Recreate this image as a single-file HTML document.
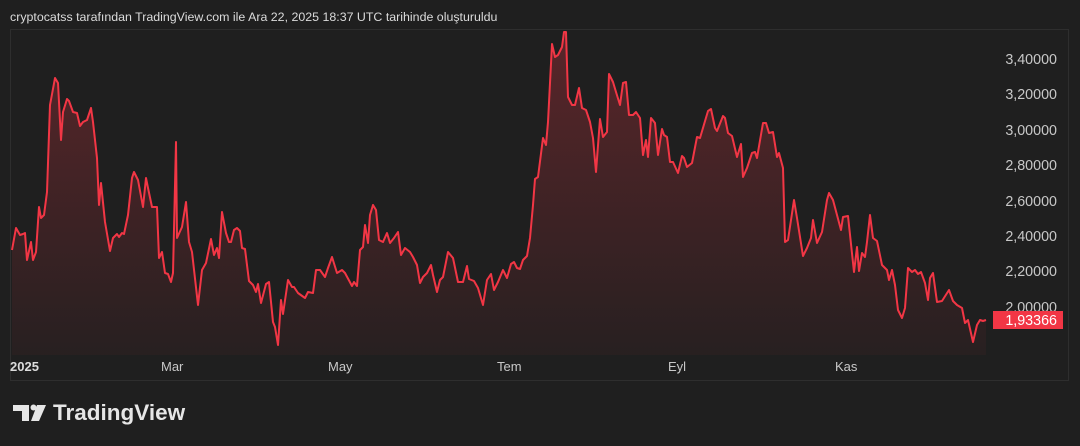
<!DOCTYPE html>
<html><head><meta charset="utf-8"><style>
html,body{margin:0;padding:0;background:#1f1f1f;width:1080px;height:446px;overflow:hidden;font-family:"Liberation Sans",sans-serif;}
</style></head><body>
<svg width="1080" height="446" viewBox="0 0 1080 446" xmlns="http://www.w3.org/2000/svg" style="position:absolute;left:0;top:0">
<defs><linearGradient id="g" x1="0" y1="0" x2="0" y2="1"><stop offset="0" stop-color="#f23645" stop-opacity="0.28"/><stop offset="1" stop-color="#f23645" stop-opacity="0.04"/></linearGradient>
<path id="p" d="M12,250 L16,228 20,235 23,234 25,233 27,260 31,242 33,260 36,252 39,207 41,218 44,215 47,192 50,105 55,78 58,83 61,140 63,112 67,99 69,101 73,112 77,113 80,126 83,122 87,120 91,108 93,122 97,158 99,205 101,183 105,222 110,251 113,238 117,234 119,237 122,233 124,234 128,215 132,178 134,172 138,180 143,207 146,178 148,188 152,207 157,207 159,258 162,252 165,273 168,274 171,282 173,273 176,142 177,238 182,227 186,202 189,242 192,252 198,305 202,270 206,263 211,239 214,255 217,248 219,258 222,212 226,233 229,242 231,242 234,230 237,228 240,231 242,248 245,249 249,281 253,285 256,292 258,284 261,303 266,284 269,282 273,322 275,327 278,345 281,300 283,314 288,280 292,287 294,287 298,293 305,298 308,292 313,293 316,270 320,270 325,277 328,268 332,257 337,273 342,270 345,273 352,286 354,282 357,286 360,250 363,247 365,225 368,243 370,215 373,205 376,210 379,240 383,242 387,233 390,243 394,238 398,232 401,255 405,248 410,252 413,257 417,265 420,283 423,277 427,273 431,265 433,275 437,292 440,280 443,277 448,252 453,258 458,282 463,282 467,266 469,279 474,281 478,288 483,305 487,280 491,274 494,290 498,282 503,270 507,278 511,264 514,262 517,268 520,269 523,260 527,256 530,238 533,205 535,179 538,177 543,138 546,145 548,122 552,44 555,57 558,55 562,47 564,32 566,32 568,97 572,105 575,105 579,88 582,108 586,110 590,122 593,138 596,172 600,119 603,137 607,132 609,74 613,82 616,92 620,105 623,83 626,82 629,115 633,115 636,112 640,118 643,155 646,140 648,157 651,118 655,123 658,155 662,129 664,135 667,137 670,162 673,162 678,173 682,156 684,158 687,167 692,163 697,137 700,138 708,111 711,109 715,128 717,131 723,116 725,118 728,133 732,136 737,157 741,144 743,177 747,168 752,153 755,152 757,158 763,123 766,123 769,133 773,132 777,157 779,153 783,168 785,242 788,240 794,200 797,218 803,256 807,248 811,238 813,220 817,243 822,232 827,200 829,193 833,200 837,215 841,230 843,217 848,216 854,272 857,247 859,271 862,253 865,257 867,242 870,215 873,238 877,241 882,265 887,270 889,280 892,270 895,285 898,310 902,318 905,308 908,268 912,272 915,270 918,274 921,272 925,283 928,300 930,278 933,273 937,302 942,301 949,290 953,301 957,305 962,308 965,323 968,320 973,342 977,325 980,320 983,321 986,320"/>
</defs>
<rect width="1080" height="446" fill="#1f1f1f"/>
<text x="10" y="21" fill="#dbdbdb" font-size="12.4">cryptocatss tarafından TradingView.com ile Ara 22, 2025 18:37 UTC tarihinde oluşturuldu</text>
<rect x="10.5" y="29.5" width="1058" height="351" fill="none" stroke="#2e2e2e"/>
<path d="M12,250 L16,228 20,235 23,234 25,233 27,260 31,242 33,260 36,252 39,207 41,218 44,215 47,192 50,105 55,78 58,83 61,140 63,112 67,99 69,101 73,112 77,113 80,126 83,122 87,120 91,108 93,122 97,158 99,205 101,183 105,222 110,251 113,238 117,234 119,237 122,233 124,234 128,215 132,178 134,172 138,180 143,207 146,178 148,188 152,207 157,207 159,258 162,252 165,273 168,274 171,282 173,273 176,142 177,238 182,227 186,202 189,242 192,252 198,305 202,270 206,263 211,239 214,255 217,248 219,258 222,212 226,233 229,242 231,242 234,230 237,228 240,231 242,248 245,249 249,281 253,285 256,292 258,284 261,303 266,284 269,282 273,322 275,327 278,345 281,300 283,314 288,280 292,287 294,287 298,293 305,298 308,292 313,293 316,270 320,270 325,277 328,268 332,257 337,273 342,270 345,273 352,286 354,282 357,286 360,250 363,247 365,225 368,243 370,215 373,205 376,210 379,240 383,242 387,233 390,243 394,238 398,232 401,255 405,248 410,252 413,257 417,265 420,283 423,277 427,273 431,265 433,275 437,292 440,280 443,277 448,252 453,258 458,282 463,282 467,266 469,279 474,281 478,288 483,305 487,280 491,274 494,290 498,282 503,270 507,278 511,264 514,262 517,268 520,269 523,260 527,256 530,238 533,205 535,179 538,177 543,138 546,145 548,122 552,44 555,57 558,55 562,47 564,32 566,32 568,97 572,105 575,105 579,88 582,108 586,110 590,122 593,138 596,172 600,119 603,137 607,132 609,74 613,82 616,92 620,105 623,83 626,82 629,115 633,115 636,112 640,118 643,155 646,140 648,157 651,118 655,123 658,155 662,129 664,135 667,137 670,162 673,162 678,173 682,156 684,158 687,167 692,163 697,137 700,138 708,111 711,109 715,128 717,131 723,116 725,118 728,133 732,136 737,157 741,144 743,177 747,168 752,153 755,152 757,158 763,123 766,123 769,133 773,132 777,157 779,153 783,168 785,242 788,240 794,200 797,218 803,256 807,248 811,238 813,220 817,243 822,232 827,200 829,193 833,200 837,215 841,230 843,217 848,216 854,272 857,247 859,271 862,253 865,257 867,242 870,215 873,238 877,241 882,265 887,270 889,280 892,270 895,285 898,310 902,318 905,308 908,268 912,272 915,270 918,274 921,272 925,283 928,300 930,278 933,273 937,302 942,301 949,290 953,301 957,305 962,308 965,323 968,320 973,342 977,325 980,320 983,321 986,320 L986,355 L12,355 Z" fill="url(#g)"/>
<use href="#p" fill="none" stroke="#f23645" stroke-width="2" stroke-linejoin="round"/>
<g fill="#c8c8c8" font-size="14.3" text-anchor="end">
<text x="1057" y="64">3,40000</text>
<text x="1057" y="99">3,20000</text>
<text x="1057" y="135">3,00000</text>
<text x="1057" y="170">2,80000</text>
<text x="1057" y="206">2,60000</text>
<text x="1057" y="241">2,40000</text>
<text x="1057" y="276">2,20000</text>
<text x="1057" y="312">2,00000</text>
</g>
<rect x="993" y="311" width="70" height="18" fill="#f23645"/>
<text x="1057" y="325" fill="#ffffff" font-size="14.3" text-anchor="end">1,93366</text>
<g fill="#c8c8c8" font-size="13">
<text x="10" y="371" font-weight="bold" fill="#dcdcdc">2025</text>
<text x="161" y="371">Mar</text>
<text x="328" y="371">May</text>
<text x="497" y="371">Tem</text>
<text x="668" y="371">Eyl</text>
<text x="835" y="371">Kas</text>
</g>
<g fill="#e6e6e6">
<path d="M13,405 H29 V421 H22 V411 H13 Z"/>
<circle cx="33.5" cy="407.5" r="3"/>
<path d="M37,405 H46 L39,421 H31 Z"/>
</g>
<text x="53" y="420" fill="#e6e6e6" font-size="22.5" font-weight="bold">TradingView</text>
</svg>
</body></html>
